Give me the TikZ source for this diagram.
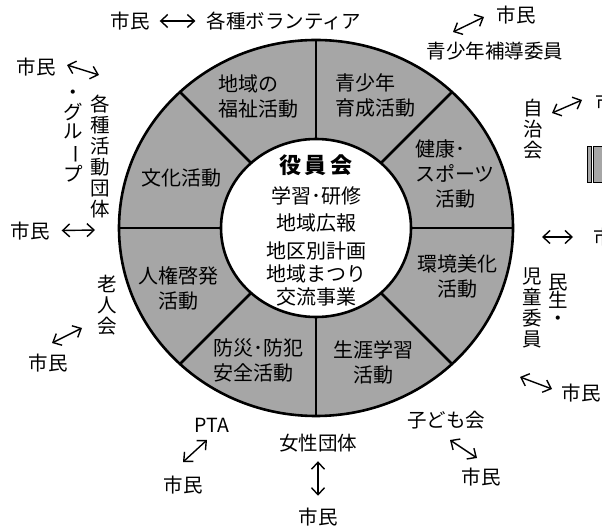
\documentclass[tikz,border=0pt]{standalone}
\usepackage{fontspec}
\setmainfont{Noto Sans CJK JP}
\usepackage{tikz}
\usetikzlibrary{arrows.meta, shapes.geometric, positioning}
\definecolor{RingGray}{HTML}{A6A6A6}
\tikzset{
  % Ring styles
  ringouter/.style={ellipse, draw=black, fill=RingGray, line width=2.6pt, minimum width=394pt, minimum height=376pt, inner sep=0pt, outer sep=0pt},
  ringinner/.style={ellipse, draw=black, fill=white, line width=2.6pt, minimum width=190pt, minimum height=178pt, inner sep=0pt, outer sep=0pt},
  divider/.style={line width=2.6pt},
  barbox/.style={rectangle, draw=black, fill=RingGray, line width=0.8pt, minimum height=36pt, inner sep=0pt},
  % Text styles
  sectorlabel/.style={font=\fontsize{20}{25}\selectfont, inner sep=0pt},
  boardtext/.style={font=\fontsize{20}{23}\selectfont, align=center, inner sep=0pt},
  grouplabel/.style={font=\fontsize{19.5}{21}\selectfont, inner sep=0pt},
  vlabel/.style={grouplabel, align=center},
  % Arrow styles
  link/.style={{Straight Barb[length=7pt,width=13pt]}-{Straight Barb[length=7pt,width=13pt]}, line width=1.4pt}
}

\begin{document}
\begin{tikzpicture}[x=1pt, y=-1pt]
  \useasboundingbox (0,0) rectangle (602,526);

  % Ring
  \node[ringouter] (ring) at (316,228) {};
  \node[ringinner] (hub) at (316,228) {};
  \foreach \ang in {0,45,...,315}
    \draw[divider] (hub.\ang) -- (ring.\ang);

  % Board in the middle
  \node[boardtext] (board) at (316,230) {{\fontsize{22}{23}\selectfont\bfseries 役\hspace{4pt}員\hspace{4pt}会}\\[7pt]
    学習･研修\\[4pt]地域広報\\[5pt]地区別計画\\地域まつり\\交流事業};

  % Activities
  \node[sectorlabel, align=left] (welfare) at (258,96) {地域の\\福祉活動};
  \node[sectorlabel, align=left] (youth) at (375,95) {青少年\\育成活動};
  \node[sectorlabel, align=left] (health) at (455,174) {健康･\\スポーツ\\　活動};
  \node[sectorlabel, align=center] (environment) at (457,276) {環境美化\\活動};
  \node[sectorlabel, align=center] (lifelong) at (373,362) {生涯学習\\活動};
  \node[sectorlabel, align=left] (safety) at (258,360) {防災･防犯\\安全活動};
  \node[sectorlabel, align=center] (rights) at (178,288) {人権啓発\\活動};
  \node[sectorlabel] (culture) at (181,178) {文化活動};

  % Groups around the ring
  \node[grouplabel] (topcit) at (130,21) {市民};
  \node[grouplabel] (volunteer) at (284,21) {各種ボランティア};
  \node[grouplabel] (trcit) at (516,15) {市民};
  \node[grouplabel] (guidance) at (495,51) {青少年補導委員};
  \node[vlabel] (jichikai) at (533,129) {自\\治\\会};
  \node[grouplabel, anchor=west] (rcitA) at (595,102) {市民};
  \node[barbox, minimum width=4.5pt] (barA) at (589.5,164) {};
  \node[barbox, minimum width=12pt, right=1pt of barA] (barB) {};
  \node[grouplabel, anchor=west] (rcitB) at (593,237) {市民};
  \node[vlabel, font=\fontsize{19.5}{18}\selectfont] (minsei) at (558,300) {民\\生\\・};
  \node[vlabel] (jidou) at (532,308) {児\\童\\委\\員};
  \node[grouplabel] (brcit) at (581,393) {市民};
  \node[grouplabel] (kodomo) at (446,420) {子ども会};
  \node[grouplabel] (kcit) at (481,477) {市民};
  \node[grouplabel] (women) at (318,443) {女性団体};
  \node[grouplabel] (bcit) at (318,517) {市民};
  \node[grouplabel] (pta) at (212,425) {PTA};
  \node[grouplabel] (pcit) at (183,485) {市民};
  \node[vlabel] (roujin) at (107,305) {老\\人\\会};
  \node[grouplabel] (lcitB) at (48,363) {市民};
  \node[grouplabel] (lcitA) at (30,231) {市民};
  \node[vlabel] (circles) at (100,156) {各\\種\\活\\動\\団\\体};
  \node[vlabel, font=\fontsize{19.5}{19.5}\selectfont] (circlesB) at (73,136) {・\\グ\\ル\\\rotatebox[origin=c]{-90}{ー}\\プ};
  \node[grouplabel] (tlcit) at (36,67) {市民};

  % Arrow ends
  \coordinate (tlA) at (67,65);
  \coordinate (tlB) at (99,75);
  \coordinate (trA) at (453,32);
  \coordinate (trB) at (484,17);
  \coordinate (jA) at (552,113);
  \coordinate (jB) at (582,100);
  \coordinate (rA) at (542,237);
  \coordinate (mA) at (520,377);
  \coordinate (mB) at (552,389);
  \coordinate (kA) at (450,440);
  \coordinate (kB) at (477,458);
  \coordinate (pA) at (207,440);
  \coordinate (pB) at (183,462);
  \coordinate (oA) at (82,328);
  \coordinate (oB) at (52,343);
  \coordinate (lB) at (95,230);

  % Arrows
  \draw[link, shorten <=10pt, shorten >=11pt] (topcit) -- (volunteer);
  \draw[link] (tlA) -- (tlB);
  \draw[link] (trA) -- (trB);
  \draw[link] (jA) -- (jB);
  \draw[link, shorten >=20pt] (rA) -- (rcitB);
  \draw[link] (mA) -- (mB);
  \draw[link] (kA) -- (kB);
  \draw[link, shorten <=9pt, shorten >=12pt] (women) -- (bcit);
  \draw[link] (pA) -- (pB);
  \draw[link] (oA) -- (oB);
  \draw[link, shorten <=12pt] (lcitA) -- (lB);
\end{tikzpicture}
\end{document}
